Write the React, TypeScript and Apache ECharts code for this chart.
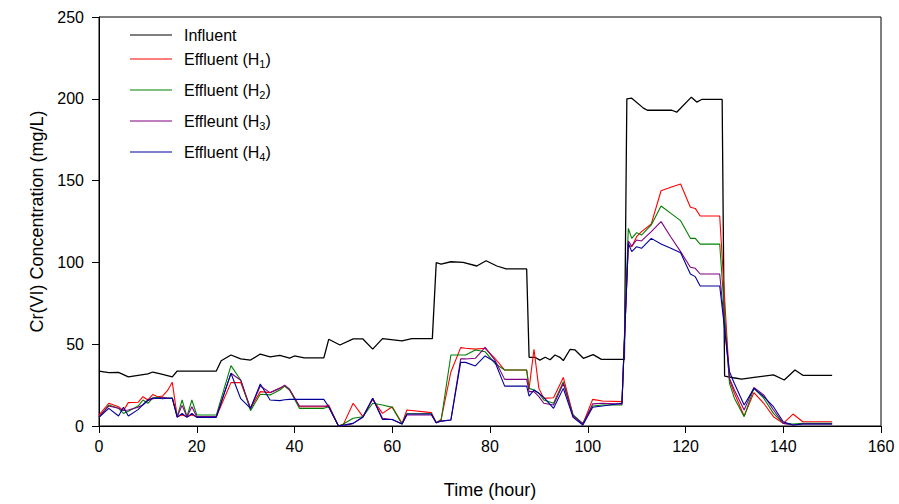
import React, { useEffect, useRef } from "react";
import * as echarts from "echarts";

const FONT = "'Liberation Sans', Arial, Helvetica, sans-serif";

// Influent Cr(VI) concentration
const influentTime = [0, 2, 4, 6, 8, 10, 11, 12.6, 15, 16, 24, 25, 27, 29, 31, 33, 35, 37, 39, 40, 42, 46, 47, 49.3, 52, 54, 56, 58, 62, 64, 68.2, 69, 70, 72, 74.5, 77.3, 79.2, 81.4, 83.3, 87.5, 88, 89.2, 90.2, 91.3, 92.3, 93.3, 94.3, 95, 96.4, 97.4, 99.1, 101.1, 102.8, 107.5, 108, 109, 111.4, 112.2, 117.2, 118.2, 121.2, 122.3, 123.3, 127.5, 128, 129.8, 131.5, 134, 138, 140.2, 142.4, 144, 150];
const influentValues = [33.6, 32.6, 32.8, 30, 31, 31.8, 33, 31.8, 30, 33.6, 33.6, 39.9, 43.4, 41, 40.3, 44, 42.2, 43.2, 41.5, 42.8, 41.6, 41.6, 53, 49.5, 53.2, 53.2, 47, 53.4, 52, 53.4, 53.4, 99.8, 99, 100.4, 100, 97.8, 101, 97.8, 96, 96, 42, 42, 40.3, 42, 40.5, 43.4, 42, 40, 46.9, 46.5, 41.4, 43.6, 40.7, 40.7, 200, 200.4, 194.3, 193, 193, 191.8, 201, 198, 199.6, 199.6, 30.5, 29.5, 28.7, 29.7, 31.2, 28.1, 34.2, 31, 31];

// Effluent sampling times (hour)
const effluentTime = [0, 2, 4, 5, 6, 8, 9, 10, 11, 12, 13, 14, 15, 16, 17, 18, 19, 20, 24, 27, 29, 31, 33, 35, 37, 38, 39, 41, 46, 47, 49, 50, 52, 54, 56, 58, 60, 62, 63, 68, 69, 70, 72, 74, 75, 77, 79, 81, 83, 87.5, 88, 89, 90, 91, 93, 95, 97, 99, 101, 103, 107, 108.3, 109, 110, 111, 113, 115, 117, 119, 121, 122, 123, 127, 129, 130, 132, 134, 136, 138, 140, 142, 144, 150];
const effluentH1 = [6.7, 13.9, 11.8, 9.4, 14.3, 14.5, 17.9, 15.9, 19.2, 17.9, 18.3, 21.6, 26.7, 5.7, 6.7, 5.7, 6.7, 5.7, 5.7, 26.5, 26.5, 10.8, 21, 20.4, 23.2, 24.4, 22, 11.8, 11.8, 12.8, 0, 1, 13.9, 5.7, 16.3, 7.7, 11.8, 1.6, 9.8, 8.2, 2, 4, 33, 47.9, 47.5, 47, 47.5, 41.4, 34.2, 34.2, 23, 46.9, 23, 16.9, 17.3, 29.7, 6.7, 1.2, 16.3, 15.3, 14.9, 110.6, 109.6, 115.7, 118.8, 123.5, 143.8, 145.9, 147.9, 133.7, 133, 128.4, 128.4, 28.1, 20, 6.1, 20.4, 13.9, 5.7, 1.6, 7.3, 2.6, 2.6];
const effluentH2 = [5.3, 12.8, 10.8, 7.7, 9, 12.2, 15.9, 13.9, 17.1, 17.5, 17.5, 17.1, 17.1, 5.7, 15.9, 5.7, 15.9, 6.7, 6.7, 36.9, 28.1, 9.4, 19.4, 19, 22, 24.4, 22, 10.8, 10.8, 11.8, 0, 1.2, 4.7, 5.7, 13.9, 12.8, 11.4, 1.2, 7.5, 7.5, 2, 3.5, 43.4, 43.4, 43.4, 46.5, 45.4, 38.3, 34.2, 34.2, 23, 22, 20, 15.9, 13.9, 27, 6.7, 1.6, 12.2, 12.8, 12.8, 120.8, 114.7, 118.2, 116.7, 122.9, 134.5, 130, 125.5, 114.7, 114.7, 111.2, 111.2, 26.1, 17, 5.7, 23, 17, 7.7, 1.6, 1.2, 1.6, 1.6];
const effluentH3 = [5.7, 12.2, 10.8, 9.5, 9.8, 11.5, 13, 15.5, 16.7, 17, 17.5, 17, 17, 5.7, 12.6, 5.7, 11.8, 5.7, 5.7, 32.2, 28, 10.8, 24.4, 20.4, 23, 25, 22.5, 12.2, 12.2, 11.8, 0, 0, 1.6, 5.7, 16.9, 4.7, 4, 1.2, 6.7, 6.7, 2, 3, 3.7, 41, 41, 41.4, 48.1, 40.3, 28.5, 28.5, 21, 21, 18, 13.9, 12.8, 26, 6.1, 1.2, 13.5, 13.9, 13.4, 113.1, 110, 113.7, 113.1, 118.8, 124.9, 115.5, 106.6, 97, 96.4, 92.9, 92.9, 29.1, 22, 9.8, 23.6, 19, 9.8, 1.6, 0.6, 1.2, 1.2];
const effluentH4 = [5.3, 10.8, 6.1, 11.4, 6.1, 10, 13, 15.9, 17.1, 17, 16.7, 17, 17, 5.3, 7.7, 5.3, 7.7, 5.3, 5.3, 32.2, 16.7, 10.8, 25.7, 15.9, 15.5, 16, 16.3, 16.3, 16.3, 11.8, 0, 0.6, 1.6, 5.3, 16.9, 4, 4, 1.2, 7.3, 7.3, 2, 3, 3.7, 38.9, 38.9, 36.7, 42.8, 39.3, 24.4, 24.4, 18.3, 22, 20, 17.5, 10.8, 23, 5.3, 0.6, 11.5, 12.2, 13.9, 111.7, 106.6, 109.6, 108.6, 114.7, 111.2, 108.6, 105.9, 92.9, 91.3, 85.6, 85.6, 33.2, 26, 12.8, 23, 18, 11.8, 2.6, 0.6, 1.2, 1.2];

const seriesNames = ["Influent", "Effluent (H1)", "Effluent (H2)", "Effleunt (H3)", "Effluent (H4)"];
const seriesColors = ["#000000", "#ff0000", "#008000", "#800080", "#000099"];

const zip = (xs: number[], ys: number[]) => xs.map((x, i) => [x, ys[i]]);

const legendText = {
  padding: [0, 0, 0, 7],
  rich: {
    n: { fontSize: 16, fontFamily: FONT, color: "#000", verticalAlign: "middle" },
    s: { fontSize: 11, fontFamily: FONT, color: "#000", padding: [10, 0, 0, 0], verticalAlign: "middle" },
  },
};
const legendFormatter = (name: string) => {
  const m = name.match(/^(.*\(H)(\d)(\))$/);
  if (m) return `{n|${m[1]}}{s|${m[2]}}{n|${m[3]}}`;
  return `{n|${name}}`;
};
const legendBase = {
  orient: "vertical",
  left: 130,
  padding: 0,
  icon: "rect",
  itemWidth: 42,
  itemHeight: 1.2,
  itemGap: 12.5,
  formatter: legendFormatter,
  textStyle: legendText,
};

export default function App() {
  const ref = useRef<HTMLDivElement>(null);
  useEffect(() => {
    document.body.style.margin = "0";
    if (!ref.current) return;
    const chart = echarts.init(ref.current, undefined, { renderer: "svg" });
    const dataSets = [
      zip(influentTime, influentValues),
      zip(effluentTime, effluentH1),
      zip(effluentTime, effluentH2),
      zip(effluentTime, effluentH3),
      zip(effluentTime, effluentH4),
    ];
    chart.setOption({
      animation: false,
      backgroundColor: "#ffffff",
      textStyle: { fontFamily: FONT },
      grid: {
        left: 99,
        right: 18,
        top: 17,
        bottom: 78,
        show: true,
        borderColor: "#000",
        borderWidth: 1,
        backgroundColor: "transparent",
      },
      legend: [
        { ...legendBase, top: 27, data: seriesNames.slice(0, 1) },
        { ...legendBase, top: 51, data: seriesNames.slice(1) },
      ],
      xAxis: {
        type: "value",
        min: 0,
        max: 160,
        interval: 20,
        name: "Time (hour)",
        nameLocation: "middle",
        nameGap: 55,
        nameTextStyle: { fontFamily: FONT, fontSize: 18, color: "#000" },
        axisLine: { show: true, onZero: false, lineStyle: { color: "#000", width: 1 } },
        axisTick: { show: true, inside: false, length: 7, lineStyle: { color: "#000" } },
        axisLabel: { color: "#000", fontSize: 16, fontFamily: FONT, margin: 12 },
        splitLine: { show: false },
      },
      yAxis: {
        type: "value",
        min: 0,
        max: 250,
        interval: 50,
        name: "Cr(VI) Concentration (mg/L)",
        nameLocation: "middle",
        nameRotate: 90,
        nameGap: 52,
        nameTextStyle: { fontFamily: FONT, fontSize: 18, color: "#000" },
        axisLine: { show: true, lineStyle: { color: "#000", width: 1 } },
        axisTick: { show: true, inside: false, length: 7, lineStyle: { color: "#000" } },
        axisLabel: { color: "#000", fontSize: 16, fontFamily: FONT, margin: 15 },
        splitLine: { show: false },
      },
      series: seriesNames.map((name, i) => ({
        name,
        type: "line",
        symbol: "none",
        data: dataSets[i],
        lineStyle: { color: seriesColors[i], width: i === 0 ? 1.3 : 1.1 },
        itemStyle: { color: seriesColors[i] },
        emphasis: { disabled: true },
      })),
    });
    return () => chart.dispose();
  }, []);
  return <div ref={ref} style={{ width: 899, height: 504 }} />;
}
